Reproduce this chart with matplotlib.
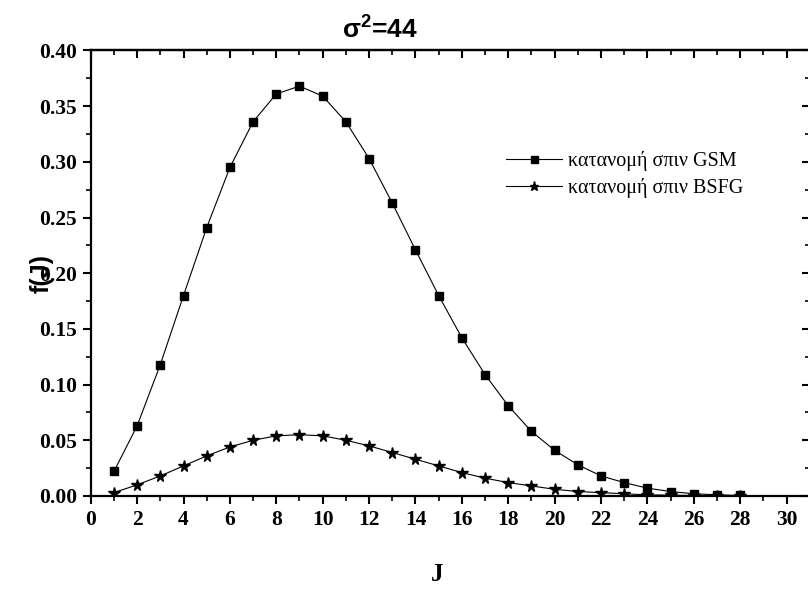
import matplotlib
matplotlib.use("Agg")
import matplotlib.pyplot as plt
from matplotlib.ticker import MultipleLocator, FormatStrFormatter

plt.rcParams["mathtext.fontset"] = "custom"
plt.rcParams["mathtext.rm"] = "Liberation Sans"
plt.rcParams["mathtext.bf"] = "Liberation Sans:bold"
plt.rcParams["mathtext.it"] = "Liberation Sans:italic"

J_gsm = [1, 2, 3, 4, 5, 6, 7, 8, 9, 10, 11, 12, 13, 14, 15, 16, 17, 18, 19, 20,
         21, 22, 23, 24, 25, 26, 27, 28]
f_gsm = [0.022, 0.063, 0.118, 0.180, 0.241, 0.295, 0.336, 0.361, 0.368, 0.359,
         0.336, 0.303, 0.263, 0.221, 0.180, 0.142, 0.109, 0.081, 0.058, 0.041,
         0.028, 0.018, 0.012, 0.007, 0.004, 0.002, 0.001, 0.0005]

J_bsfg = [1, 2, 3, 4, 5, 6, 7, 8, 9, 10, 11, 12, 13, 14, 15, 16, 17, 18, 19, 20,
          21, 22, 23, 24, 25, 26, 27, 28]
f_bsfg = [0.003, 0.010, 0.018, 0.027, 0.036, 0.044, 0.050, 0.054, 0.055, 0.054,
          0.050, 0.045, 0.039, 0.033, 0.027, 0.021, 0.016, 0.012, 0.009, 0.006,
          0.004, 0.003, 0.002, 0.001, 0.0007, 0.0004, 0.0002, 0.0001]

label_gsm = "κατανομή σπιν GSM"
label_bsfg = "κατανομή σπιν BSFG"
title = r"$\mathbf{\sigma^2}$=44"

fig = plt.figure(figsize=(8.08, 5.99), dpi=100)
ax = fig.add_axes([0.1123, 0.172, 0.8899, 0.7437])

ax.plot(J_gsm, f_gsm, color="black", lw=0.8, marker="s", ms=6.3, label=label_gsm)
ax.plot(J_bsfg, f_bsfg, color="black", lw=0.8, marker="*", ms=8.5, label=label_bsfg)

ax.set_xlim(0, 31)
ax.set_ylim(0, 0.40)
ax.xaxis.set_major_locator(MultipleLocator(2))
ax.xaxis.set_minor_locator(MultipleLocator(1))
ax.yaxis.set_major_locator(MultipleLocator(0.05))
ax.yaxis.set_minor_locator(MultipleLocator(0.025))
ax.yaxis.set_major_formatter(FormatStrFormatter("%.2f"))

for s in ax.spines.values():
    s.set_linewidth(1.6)

ax.tick_params(which="major", direction="out", length=6, width=1.5, pad=4)
ax.tick_params(which="minor", direction="out", length=3.5, width=1.2)
for lab in ax.get_xticklabels() + ax.get_yticklabels():
    lab.set_fontfamily("Liberation Serif")
    lab.set_fontweight("bold")
    lab.set_fontsize(15.5)

secx = ax.secondary_xaxis("top")
secx.xaxis.set_major_locator(MultipleLocator(2))
secx.xaxis.set_minor_locator(MultipleLocator(1))
secx.tick_params(which="major", direction="in", length=6, width=1.5, labeltop=False)
secx.tick_params(which="minor", direction="in", length=3.5, width=1.2)
secx.spines["top"].set_linewidth(1.6)

secy = ax.secondary_yaxis("right")
secy.yaxis.set_major_locator(MultipleLocator(0.05))
secy.yaxis.set_minor_locator(MultipleLocator(0.025))
secy.tick_params(which="major", direction="in", length=6, width=1.5, labelright=False)
secy.tick_params(which="minor", direction="in", length=3.5, width=1.2)
secy.spines["right"].set_linewidth(1.6)

fig.text(380 / 808, 1 - 30 / 599, title, ha="center", va="center",
         fontfamily="Liberation Sans", fontweight="bold", fontsize=19)
ax.set_xlabel("J", fontfamily="Liberation Serif", fontweight="bold", fontsize=18)
ax.xaxis.set_label_coords((437 - 90.7) / 719, -(575 - 496) / 446)
ax.xaxis.label.set_va("center")
ax.set_ylabel("f(J)", fontfamily="Liberation Sans", fontweight="bold", fontsize=18)
ax.yaxis.set_label_coords(-(90.7 - 42) / 719, 0.5)
ax.yaxis.label.set_va("center")

leg = ax.legend(loc="upper right", bbox_to_anchor=(0.922, 0.797), frameon=False, borderpad=0,
                prop={"family": "Liberation Serif", "size": 14.5},
                handlelength=2.8, handletextpad=0.3, labelspacing=0.35, markerscale=0.8)

fig.savefig("out.png", dpi=100)
